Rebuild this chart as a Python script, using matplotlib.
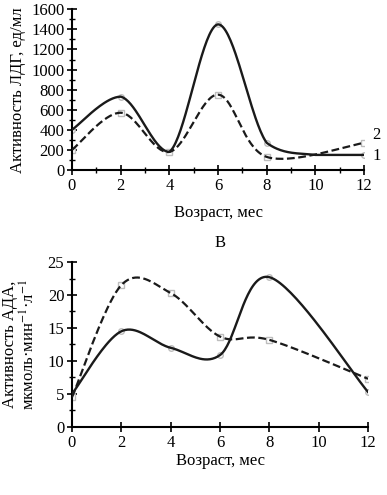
import numpy as np
import matplotlib
matplotlib.use("Agg")
import matplotlib.pyplot as plt
from matplotlib.ticker import MultipleLocator

plt.rcParams['font.family'] = ['Liberation Serif', 'DejaVu Serif']
plt.rcParams['mathtext.fontset'] = 'stix'

# Top panel: LDH activity
ldh_x1 = [0, 2, 4, 6, 8, 10, 12]
ldh_y1 = [400, 730, 180, 1450, 270, 150, 150]
ldh_x2 = [0, 2, 4, 6, 8, 12]
ldh_y2 = [200, 570, 180, 750, 130, 270]

# Bottom panel: ADA activity
ada_x1 = [0, 2, 4, 6, 8, 12]
ada_y1 = [5.0, 14.5, 12.0, 10.9, 22.7, 5.3]
ada_x2 = [0, 2, 4, 6, 8, 12]
ada_y2 = [4.5, 21.5, 20.3, 13.7, 13.2, 7.3]

xticks = [0, 2, 4, 6, 8, 10, 12]


def smooth(x, y, n=40, clamp=False):
    P = np.column_stack([x, y]).astype(float)
    m = len(P)
    out = [P[0]]
    for i in range(m - 1):
        p0 = P[i - 1] if i > 0 else P[i]
        p1 = P[i]
        p2 = P[i + 1]
        p3 = P[i + 2] if i + 2 < m else P[i + 1]
        b1 = p1 + (p2 - p0) / 6.0
        b2 = p2 - (p3 - p1) / 6.0
        if clamp:
            lo, hi = min(p1[1], p2[1]), max(p1[1], p2[1])
            b1[1] = np.clip(b1[1], lo, hi)
            b2[1] = np.clip(b2[1], lo, hi)
        t = np.linspace(0, 1, n)[1:, None]
        seg = ((1 - t) ** 3) * p1 + 3 * ((1 - t) ** 2) * t * b1 + 3 * (1 - t) * t ** 2 * b2 + t ** 3 * p2
        out.extend(seg)
    out = np.array(out)
    return out[:, 0], out[:, 1]


fig = plt.figure(figsize=(3.87, 4.95), dpi=100)
ax1 = fig.add_axes([0.186, 0.6566, 0.755, 0.3246])
ax2 = fig.add_axes([0.186, 0.1374, 0.765, 0.3333])

mk_col = '#bdbdbd'
line_col = '#1a1a1a'
dash = (0, (3.5, 1.6))
for ax in (ax1, ax2):
    for s in ('top', 'right'):
        ax.spines[s].set_visible(False)
    for s in ('left', 'bottom'):
        ax.spines[s].set_linewidth(1.5)
    ax.tick_params(which='major', direction='inout', length=7, width=1.2, labelsize=12, pad=2)
    ax.tick_params(which='minor', direction='inout', length=5, width=1.0)

# Top
sx, sy = smooth(ldh_x1, ldh_y1, clamp=True)
ax1.plot(sx, sy, color=line_col, lw=1.7, zorder=3)
mx = [v for v in ldh_x1 if v != 10]
my = [w for v, w in zip(ldh_x1, ldh_y1) if v != 10]
ax1.plot(mx, my, 'o', ms=4, mfc='white', mec=mk_col, mew=1.0, lw=0, zorder=2)
sx, sy = smooth(ldh_x2, ldh_y2)
ax1.plot(sx, sy, color=line_col, lw=1.6, ls=dash, zorder=3)
ax1.plot(ldh_x2, ldh_y2, 's', ms=4.5, mfc='white', mec=mk_col, mew=1.0, lw=0, zorder=2)
ax1.set_xlim(0, 12)
ax1.set_ylim(0, 1600)
ax1.set_xticks(xticks)
ax1.xaxis.set_minor_locator(MultipleLocator(1))
ax1.yaxis.set_major_locator(MultipleLocator(200))
ax1.yaxis.set_minor_locator(MultipleLocator(100))
ax1.set_xlabel('Возраст, мес', fontsize=12, labelpad=8)
ax1.set_ylabel('Активность ЛДГ, ед/мл', fontsize=12, labelpad=4)
ax1.text(12.35, 350, '2', fontsize=12, ha='left', va='center', clip_on=False)
ax1.text(12.35, 140, '1', fontsize=12, ha='left', va='center', clip_on=False)

# Bottom
sx, sy = smooth(ada_x1, ada_y1)
ax2.plot(sx, sy, color=line_col, lw=1.7, zorder=3)
ax2.plot(ada_x1, ada_y1, 'o', ms=4, mfc='white', mec=mk_col, mew=1.0, lw=0, zorder=2)
sx, sy = smooth(ada_x2, ada_y2)
ax2.plot(sx, sy, color=line_col, lw=1.6, ls=dash, zorder=3)
ax2.plot(ada_x2, ada_y2, 's', ms=4.5, mfc='white', mec=mk_col, mew=1.0, lw=0, zorder=2)
ax2.set_xlim(0, 12)
ax2.set_ylim(0, 25)
ax2.set_xticks(xticks)
ax2.yaxis.set_major_locator(MultipleLocator(5))
ax2.yaxis.set_minor_locator(MultipleLocator(2.5))
ax2.set_xlabel('Возраст, мес', fontsize=12, labelpad=2)
ax2.set_ylabel('Активность АДА,\nмкмоль·мин$^{-1}$·л$^{-1}$', fontsize=12, labelpad=6, linespacing=1.15)
ax2.set_title('В', fontsize=12, pad=11)

fig.savefig('out.png', dpi=100)
